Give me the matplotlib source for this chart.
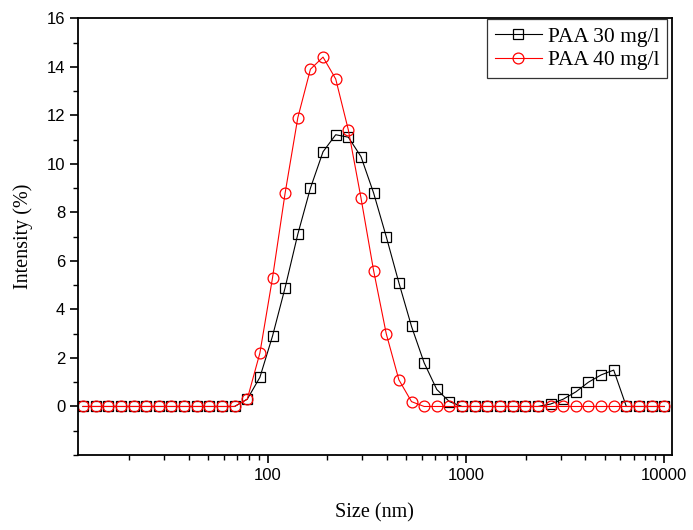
import numpy as np
import matplotlib
matplotlib.use("Agg")
import matplotlib.pyplot as plt
from matplotlib.ticker import LogLocator, NullFormatter, FixedLocator, MultipleLocator
# ---------------------------------------------------------------------------

# size bins (nm), Zetasizer style log spacing
size_nm = [11.7, 13.54, 15.69, 18.17, 21.04, 24.36, 28.21, 32.67, 37.84, 43.82,
           50.75, 58.77, 68.06, 78.82, 91.28, 105.7, 122.4, 141.8, 164.2, 190.1,
           220.2, 255.0, 295.3, 342.0, 396.1, 458.7, 531.2, 615.1, 712.4, 825.0,
           955.4, 1106, 1281, 1484, 1718, 1990, 2305, 2669, 3091, 3580,
           4145, 4801, 5560, 6439, 7456, 8635, 10000]

paa30 = [0, 0, 0, 0, 0, 0, 0, 0, 0, 0,
         0, 0, 0, 0.3, 1.2, 2.9, 4.9, 7.1, 9.0, 10.5,
         11.2, 11.1, 10.3, 8.8, 7.0, 5.1, 3.3, 1.8, 0.7, 0.2,
         0, 0, 0, 0, 0, 0, 0, 0.1, 0.3, 0.6,
         1.0, 1.3, 1.5, 0, 0, 0, 0]

paa40 = [0, 0, 0, 0, 0, 0, 0, 0, 0, 0,
         0, 0, 0, 0.3, 2.2, 5.3, 8.8, 11.9, 13.9, 14.4,
         13.5, 11.4, 8.6, 5.6, 3.0, 1.1, 0.2, 0, 0, 0,
         0, 0, 0, 0, 0, 0, 0, 0, 0, 0,
         0, 0, 0, 0, 0, 0, 0]

labels = ["PAA 30 mg/l", "PAA 40 mg/l"]

fig = plt.figure(figsize=(6.93, 5.30), dpi=100)
ax = fig.add_axes((0.1121, 0.1415, 0.8571, 0.824))

ax.plot(size_nm, paa30, color="black", linewidth=0.8, marker="s",
        markersize=6.8, markerfacecolor="none", markeredgecolor="black",
        markeredgewidth=0.9, label=labels[0])
ax.plot(size_nm, paa40, color="red", linewidth=0.8, marker="o",
        markersize=7.8, markerfacecolor="none", markeredgecolor="red",
        markeredgewidth=0.9, label=labels[1])

ax.set_xscale("log")
ax.set_xlim(11, 10900)
ax.set_ylim(-2, 16)

ax.xaxis.set_major_locator(FixedLocator([100, 1000, 10000]))
ax.xaxis.set_major_formatter(plt.FuncFormatter(lambda v, p: "%d" % v))
ax.xaxis.set_minor_locator(LogLocator(base=10, subs=np.arange(2, 10)))
ax.xaxis.set_minor_formatter(NullFormatter())
ax.yaxis.set_major_locator(FixedLocator(np.arange(0, 17, 2)))
ax.yaxis.set_minor_locator(MultipleLocator(1))

for sp in ax.spines.values():
    sp.set_linewidth(1.3)

ax.tick_params(which="major", direction="out", length=6, width=1.2,
               labelsize=12, pad=3)
ax.tick_params(which="minor", direction="out", length=3.5, width=1.0)
for lab in ax.get_xticklabels() + ax.get_yticklabels():
    lab.set_family("Liberation Sans")

ax.set_xlabel("Size (nm)", family="Liberation Serif", fontsize=14.5, labelpad=15)
ax.set_ylabel("Intensity (%)", family="Liberation Serif", fontsize=14.5, labelpad=10)

leg = ax.legend(loc="upper right", bbox_to_anchor=(0.993, 0.998),
                prop={"family": "Liberation Serif", "size": 15.5},
                frameon=True, fancybox=False, edgecolor="black",
                handlelength=2.2, handletextpad=0.3, borderpad=0.35,
                labelspacing=0.15, borderaxespad=0)
leg.get_frame().set_linewidth(0.9)

fig.savefig("out.png", dpi=100)
